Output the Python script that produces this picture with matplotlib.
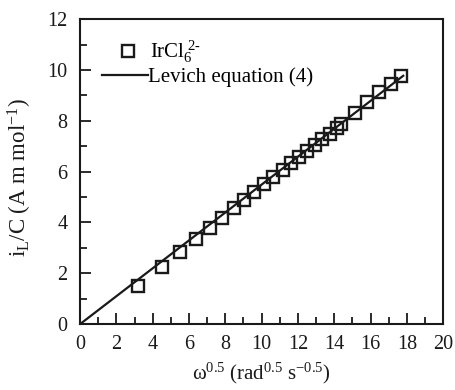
import matplotlib
matplotlib.use("Agg")
import matplotlib.pyplot as plt
from matplotlib.ticker import MultipleLocator

omega_sqrt = [3.18, 4.50, 5.53, 6.41, 7.16, 7.84, 8.47, 9.05, 9.60, 10.14,
              10.65, 11.15, 11.61, 12.07, 12.51, 12.93, 13.35, 13.76, 14.16,
              14.38, 15.17, 15.81, 16.46, 17.10, 17.70]
iL_C = [1.51, 2.26, 2.82, 3.35, 3.78, 4.17, 4.55, 4.88, 5.21, 5.50,
        5.77, 6.05, 6.32, 6.56, 6.81, 7.05, 7.27, 7.49, 7.70,
        7.87, 8.32, 8.73, 9.12, 9.46, 9.78]
levich_x = [0.0, 17.8]
levich_y = [0.0, 9.77]

plt.rcParams['font.family'] = ['Liberation Serif', 'DejaVu Serif']
plt.rcParams['mathtext.fontset'] = 'custom'
plt.rcParams['mathtext.rm'] = 'Liberation Serif'
plt.rcParams['mathtext.it'] = 'Liberation Serif:italic'

ink = '#1a1a1a'
fig = plt.figure(figsize=(4.55, 3.9), dpi=100)
ax = fig.add_axes([0.176, 0.169, 0.798, 0.782])

pts, = ax.plot(omega_sqrt, iL_C, linestyle='none', marker='s', markersize=8.5,
               markerfacecolor='none', markeredgecolor=ink, markeredgewidth=1.7,
               label=r'$\mathrm{IrCl_6^{\ 2\text{-}}}$')
ln, = ax.plot(levich_x, levich_y, color=ink, linewidth=1.6,
              label='Levich equation (4)')

ax.set_xlim(0, 20)
ax.set_ylim(0, 12)
ax.xaxis.set_major_locator(MultipleLocator(2))
ax.xaxis.set_minor_locator(MultipleLocator(1))
ax.yaxis.set_major_locator(MultipleLocator(2))
ax.yaxis.set_minor_locator(MultipleLocator(1))

for s in ax.spines.values():
    s.set_linewidth(1.5)
    s.set_color(ink)

ax.tick_params(which='both', direction='in', top=False, right=False,
               color=ink, width=1.3, labelsize=14.5, labelcolor=ink)
ax.tick_params(which='major', length=8)
ax.tick_params(axis='x', which='major', pad=8)
ax.tick_params(axis='y', which='major', pad=9)
ax.tick_params(which='minor', length=5)

ax.set_xlabel(r'$\mathrm{\omega^{0.5}\ (rad^{0.5}\ s^{-0.5})}$', fontsize=15,
              color=ink, labelpad=5)
ax.set_ylabel(r'$\mathrm{i_L/C\ (A\ m\ mol^{-1})}$', fontsize=16.5, color=ink)
ax.yaxis.set_label_coords(-0.128, 0.482)

leg1 = ax.legend(handles=[pts], loc='center left', frameon=False, fontsize=15,
                 bbox_to_anchor=(0.1036, 0.892), handlelength=1.0,
                 handletextpad=0.56, borderaxespad=0, borderpad=0)
ax.add_artist(leg1)
leg2 = ax.legend(handles=[ln], loc='center left', frameon=False, fontsize=15,
                 bbox_to_anchor=(0.0606, 0.81), handlelength=2.2,
                 handletextpad=0.0, borderaxespad=0, borderpad=0)

fig.savefig('out.png', dpi=100)
